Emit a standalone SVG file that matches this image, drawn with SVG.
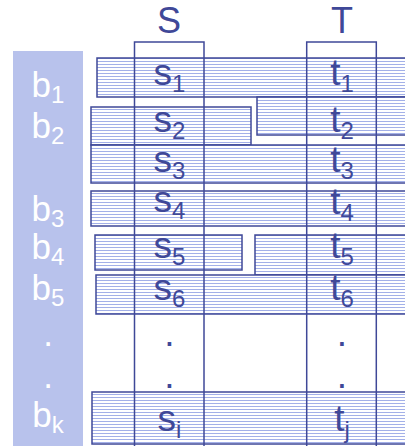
<svg xmlns="http://www.w3.org/2000/svg" width="405" height="446" viewBox="0 0 405 446">
<defs>
<pattern id="hatch" x="0" y="0" width="6" height="3" patternUnits="userSpaceOnUse">
<rect width="6" height="3" fill="#ffffff"/>
<rect y="1" width="6" height="1" fill="#a3b0e8"/>
</pattern>
</defs>
<style>
.row{fill:url(#hatch);stroke:#3f4898;stroke-width:1.5}
.col{fill:none;stroke:#3f4898;stroke-width:1.5}
.lbl{font-family:"Liberation Sans",Arial,sans-serif;font-size:37px;fill:#3f4898;text-anchor:middle}
.bl{font-family:"Liberation Sans",Arial,sans-serif;font-size:35px;fill:#ffffff;text-anchor:middle}
.sub{font-size:24px}
.hdr{font-family:"Liberation Sans",Arial,sans-serif;font-size:36px;fill:#3f4898;text-anchor:middle}
</style>
<g id="panel">
<rect x="13" y="51" width="70" height="400" fill="#b8c2ec"/>
<text class="bl" x="48" y="97">b<tspan class="sub" dy="6">1</tspan></text>
<text class="bl" x="48" y="138">b<tspan class="sub" dy="6">2</tspan></text>
<text class="bl" x="48" y="221">b<tspan class="sub" dy="6">3</tspan></text>
<text class="bl" x="48" y="259">b<tspan class="sub" dy="6">4</tspan></text>
<text class="bl" x="48" y="300">b<tspan class="sub" dy="6">5</tspan></text>
<text class="bl" x="48" y="346">.</text>
<text class="bl" x="48" y="388">.</text>
<text class="bl" x="48" y="427">b<tspan class="sub" dy="6">k</tspan></text>
</g>
<g id="rows">
<g id="row1"><rect class="row" x="97" y="58" width="330" height="39"/></g>
<g id="row2a"><rect class="row" x="91" y="107" width="160" height="38"/></g>
<g id="row2b"><rect class="row" x="257" y="97" width="170" height="38"/></g>
<g id="row3"><rect class="row" x="91" y="145" width="336" height="38"/></g>
<g id="row4"><rect class="row" x="91" y="191" width="336" height="35"/></g>
<g id="row5a"><rect class="row" x="95" y="235" width="147" height="35"/></g>
<g id="row5b"><rect class="row" x="255" y="235" width="172" height="40"/></g>
<g id="row6"><rect class="row" x="96" y="275" width="331" height="39"/></g>
<g id="rowk"><rect class="row" x="92" y="392" width="335" height="52"/></g>
</g>
<g id="colS">
<rect class="col" x="134.5" y="42" width="69.5" height="420"/>
<text class="hdr" x="169" y="33">S</text>
<text class="lbl" x="169.5" y="85">s<tspan class="sub" dy="7">1</tspan></text>
<text class="lbl" x="169.5" y="132">s<tspan class="sub" dy="7">2</tspan></text>
<text class="lbl" x="169.5" y="172">s<tspan class="sub" dy="7">3</tspan></text>
<text class="lbl" x="169.5" y="212">s<tspan class="sub" dy="7">4</tspan></text>
<text class="lbl" x="169.5" y="258">s<tspan class="sub" dy="7">5</tspan></text>
<text class="lbl" x="169.5" y="300">s<tspan class="sub" dy="7">6</tspan></text>
<text class="lbl" x="169.5" y="346">.</text>
<text class="lbl" x="169.5" y="388">.</text>
<text class="lbl" x="169.5" y="431">s<tspan class="sub" dy="7">i</tspan></text>
</g>
<g id="colT">
<rect class="col" x="306.7" y="42" width="69.6" height="420"/>
<text class="hdr" x="342" y="33">T</text>
<text class="lbl" x="342" y="85">t<tspan class="sub" dy="7">1</tspan></text>
<text class="lbl" x="342" y="132">t<tspan class="sub" dy="7">2</tspan></text>
<text class="lbl" x="342" y="172">t<tspan class="sub" dy="7">3</tspan></text>
<text class="lbl" x="342" y="214">t<tspan class="sub" dy="7">4</tspan></text>
<text class="lbl" x="342" y="258">t<tspan class="sub" dy="7">5</tspan></text>
<text class="lbl" x="342" y="300">t<tspan class="sub" dy="7">6</tspan></text>
<text class="lbl" x="342" y="346">.</text>
<text class="lbl" x="342" y="388">.</text>
<text class="lbl" x="342" y="431">t<tspan class="sub" dy="7">j</tspan></text>
</g>
<g id="connectors"></g>
</svg>
